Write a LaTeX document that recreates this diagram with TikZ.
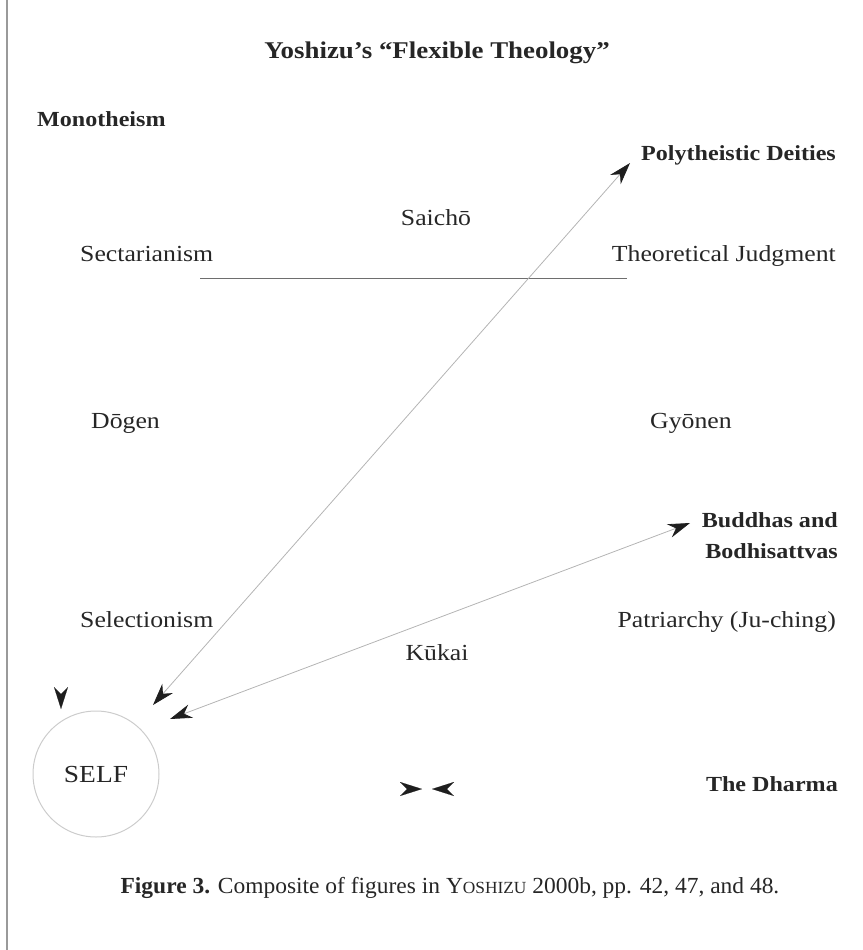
\documentclass[tikz,border=0pt]{standalone}
\usepackage{fontspec}
\setmainfont{Liberation Serif}[FakeStretch=1.12]
\newfontfamily\captionfont{Liberation Serif}[FakeStretch=1.02]
\usetikzlibrary{arrows.meta,calc}
\definecolor{linegray}{HTML}{B4B4B4}
\definecolor{rulegray}{HTML}{6E6E6E}
\definecolor{ringgray}{HTML}{CCCCCC}
\definecolor{edgegray}{HTML}{9A9A9A}
\definecolor{tipdark}{HTML}{1E1E1E}
\definecolor{textdark}{HTML}{262626}
\tikzset{
  barb/.tip={Stealth[length=22pt,width=14pt,inset=7pt,color=tipdark]},
  term/.style={font=\fontsize{23}{26}\selectfont, text=textdark, inner sep=0pt},
  keyterm/.style={term, font=\fontsize{21.5}{26}\selectfont\bfseries},
  twoway/.style={barb-barb, draw=linegray, line width=0.8pt},
  lonetip/.style={-barb, draw=white, line width=0.1pt}
}

\begin{document}
\begin{tikzpicture}[x=1pt,y=-1pt]
        \useasboundingbox (0,0) rectangle (862,950);
        \draw[edgegray, line width=1.4pt] (7,0) -- (7,950);
        \node[keyterm, font=\fontsize{24}{28}\selectfont\bfseries, anchor=base] (title) at (437,59) {Yoshizu’s “Flexible Theology”};
        % corners and sides of the scheme
        \node[keyterm, anchor=base west] (mono) at (37,126) {Monotheism};
        \node[keyterm, anchor=base east] (poly) at (836,160) {Polytheistic Deities};
        \node[term, anchor=base] (saicho) at (436,225) {Saichō};
        \node[term, anchor=base west] (sect) at (80,261) {Sectarianism};
        \node[term, anchor=base east] (theo) at (836,261) {Theoretical Judgment};
        \draw[rulegray, line width=0.9pt] (200,278) -- (627,278);
        \node[term, anchor=base west] (dogen) at (91,428) {Dōgen};
        \node[term, anchor=base west] (gyonen) at (650,428) {Gyōnen};
        \node[keyterm, anchor=base east] (buddhas) at (838,527) {Buddhas and};
        \node[keyterm, anchor=base east] (bodhi) at (838,558) {Bodhisattvas};
        \node[term, anchor=base west] (select) at (80,627) {Selectionism};
        \node[term, anchor=base east] (patri) at (836,627) {Patriarchy (Ju-ching)};
        \node[term, anchor=base] (kukai) at (437,660) {Kūkai};
        \node[keyterm, anchor=base east] (dharma) at (838,791) {The Dharma};
        % self
        \node[term, font=\fontsize{24.5}{28}\selectfont, circle, draw=ringgray, line width=1pt, minimum size=126pt] (self) at (96,774) {SELF};
        % arrows
        \coordinate (polyend) at (630,163);
        \coordinate (selfup) at (153,705);
        \coordinate (buddhaend) at (690,523);
        \coordinate (selfright) at (170,719);
        \draw[twoway] (selfup) -- (polyend);
        \draw[twoway] (selfright) -- (buddhaend);
        \coordinate (selfmark) at (61,709);
        \coordinate (dharmaleft) at (422,789);
        \coordinate (dharmaright) at (432,789);
        \draw[lonetip] ($(selfmark)+(0,-1)$) -- (selfmark);
        \draw[lonetip] ($(dharmaleft)+(-1,0)$) -- (dharmaleft);
        \draw[lonetip] ($(dharmaright)+(1,0)$) -- (dharmaright);
        \node[term, font=\fontsize{23}{26}\captionfont, anchor=base] (caption) at (450,893)
          {\textbf{Figure 3.} Composite of figures in Y{\fontsize{17}{20}\selectfont OSHIZU} 2000b, pp. 42, 47, and 48.};
      \end{tikzpicture}
\end{document}
